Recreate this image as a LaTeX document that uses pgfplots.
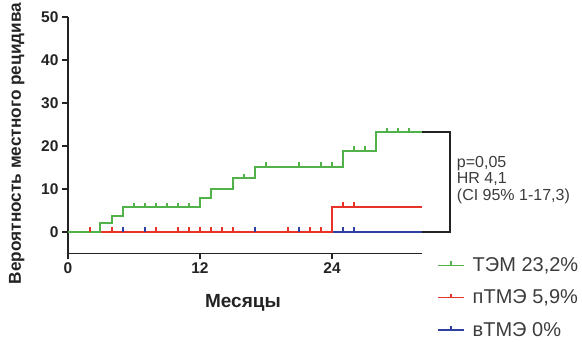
\documentclass[border=0pt]{standalone}
\usepackage{fontspec}
\setmainfont{Liberation Sans}
\usepackage{pgfplots}
\pgfplotsset{compat=1.18}
\definecolor{cgreen}{RGB}{80,178,72}
\definecolor{cred}{RGB}{232,52,40}
\definecolor{cblue}{RGB}{48,64,160}
\definecolor{axcol}{RGB}{35,35,35}
\definecolor{txtcol}{RGB}{60,60,60}
\pgfdeclareplotmark{cens}{\pgfpathmoveto{\pgfpointorigin}\pgfpathlineto{\pgfpoint{0pt}{4.5bp}}\pgfusepathqstroke}
\begin{document}
\begin{tikzpicture}
\begin{axis}[
  x=11bp, y=4.3bp,
  xmin=0, xmax=32.2, ymin=-5, ymax=50,
  axis lines=left,
  axis line style={-, line width=1.6bp, draw=axcol},
  tick style={line width=1.6bp, draw=axcol},
  major tick length=6bp,
  tick align=outside,
  xtick={0,12,24}, ytick={0,10,20,30,40,50},
  /pgf/number format/assume math mode=true,
  ticklabel style={font=\bfseries\fontsize{15.5bp}{18bp}\selectfont, text=axcol},
  xlabel={Месяцы},
  xlabel style={at={(axis description cs:0.4938,-0.209)}, anchor=center, font=\bfseries\fontsize{19bp}{22bp}\selectfont, text=axcol},
  ylabel={Вероятность местного рецидива},
  ylabel style={at={(axis description cs:-0.145,0.465)}, anchor=center, font=\bfseries\fontsize{17.2bp}{19bp}\selectfont, text=axcol},
  clip=false,
  reverse legend,
  legend style={at={(axis cs:33.54,-5.45)}, anchor=north west, draw=none, fill=none,
    font=\fontsize{20bp}{24bp}\selectfont, row sep=12.8bp, column sep=6bp, inner sep=0pt,
    nodes={text=txtcol}},
  legend cell align=left,
  legend image code/.code={\draw[#1, line width=1.6bp] (0bp,0bp) -- (26bp,0bp); \draw[#1, line width=1.4bp] (13bp,0bp) -- (13bp,4bp);},
]
% blue
\addplot[cblue, line width=2bp, const plot] coordinates {(0,0) (32.2,0)};
\addlegendentry{вТМЭ 0\%}
% red
\addplot[cred, line width=2bp, const plot] coordinates {(0,0) (24,5.9) (32.2,5.9)};
\addlegendentry{пТМЭ 5,9\%}
% green
\addplot[cgreen, line width=2bp, const plot] coordinates {(0,0) (2.9,2.2) (4,3.8) (5,5.7) (12,7.9) (13,9.9) (15,12.5) (17,15.2) (25,18.9) (28,23.2) (32.2,23.2)};
\addlegendentry{ТЭМ 23,2\%}
% censor marks
\addplot[only marks, mark=cens, cblue, mark options={line width=1.4bp}, forget plot] coordinates {(5,0) (7,0) (17,0) (21,0) (25,0) (26,0)};
\addplot[only marks, mark=cens, cred, mark options={line width=1.4bp}, forget plot] coordinates {(2,0) (4,0) (8,0) (10,0) (11,0) (12,0) (13,0) (14,0) (15,0) (20,0) (22,0) (23,0) (25,5.9) (26,5.9)};
\addplot[only marks, mark=cens, cgreen, mark options={line width=1.4bp}, forget plot] coordinates {(6,5.7) (7,5.7) (8,5.7) (9,5.7) (10,5.7) (11,5.7) (16,12.5) (18,15.2) (21,15.2) (23,15.2) (24,15.2) (26,18.9) (27,18.9) (29,23.2) (30,23.2) (31,23.2)};
% bracket
\draw[axcol, line width=1.6bp] (axis cs:32.2,23.2) -- (axis cs:34.75,23.2) -- (axis cs:34.75,0) -- (axis cs:32.2,0);
\node[anchor=base west, inner sep=0pt, text=txtcol, font=\fontsize{16bp}{19bp}\selectfont] at (axis cs:35.34,14.9) {p=0,05};
\node[anchor=base west, inner sep=0pt, text=txtcol, font=\fontsize{16bp}{19bp}\selectfont] at (axis cs:35.34,11.3) {HR 4,1};
\node[anchor=base west, inner sep=0pt, text=txtcol, font=\fontsize{16bp}{19bp}\selectfont] at (axis cs:35.34,7.4) {(CI 95\% 1-17,3)};
\coordinate (bl) at (axis cs:-6.1818,-25.581);
\coordinate (tr) at (axis cs:46.727,53.953);
\end{axis}
\pgfresetboundingbox
\useasboundingbox (bl) rectangle (tr);
\end{tikzpicture}
\end{document}
